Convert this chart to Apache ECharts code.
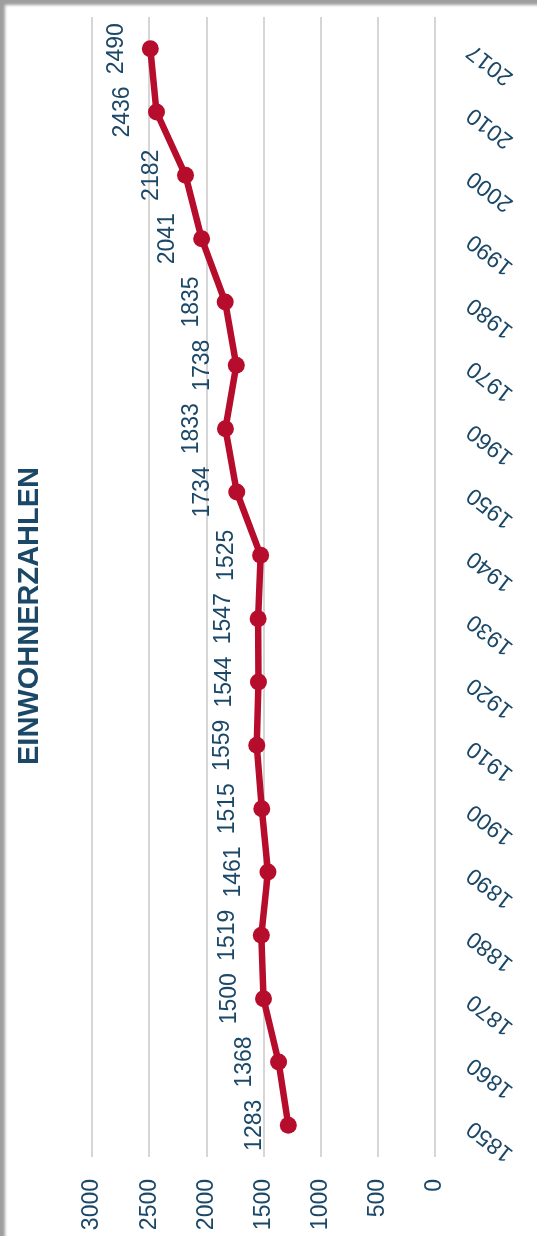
<!DOCTYPE html>
<html>
<head>
<meta charset="utf-8">
<script src="https://cdn.jsdelivr.net/npm/echarts@6/dist/echarts.min.js"></script>
<style>
html,body{margin:0;padding:0;background:#fff;}
#wrap{position:relative;width:537px;height:1236px;box-shadow:inset 6px 6px 3px -1px rgba(0,0,0,0.38);}
#chart{position:absolute;left:0;top:0;width:537px;height:1236px;}
</style>
</head>
<body>
<div id="wrap"><div id="chart"></div></div>
<script>
const title = 'EINWOHNERZAHLEN';
const years = ['1850','1860','1870','1880','1890','1900','1910','1920','1930','1940','1950','1960','1970','1980','1990','2000','2010','2017'];
const population = [1283,1368,1500,1519,1461,1515,1559,1544,1547,1525,1734,1833,1738,1835,2041,2182,2436,2490];
const valueTicks = {min:0, max:3000, interval:500};

const navy = '#1c4868';
const red = '#b70d2c';
const font = '"Liberation Sans", Arial, sans-serif';

const chart = echarts.init(document.getElementById('chart'), null, {renderer:'canvas'});
chart.setOption({
  backgroundColor: 'transparent',
  animation: false,
  grid: {left: 92, right: 102, top: 17, bottom: 79, containLabel: false, outerBoundsMode: 'none'},
  xAxis: {
    type: 'value',
    min: valueTicks.min, max: valueTicks.max, interval: valueTicks.interval,
    inverse: true,
    position: 'bottom',
    axisLine: {show: false},
    axisTick: {show: false},
    splitLine: {show: true, lineStyle: {color: '#d6d6d6', width: 2}},
    axisLabel: {rotate: 90, margin: 22, color: navy, fontSize: 23, fontFamily: font,
      formatter: function (v) { return String(v); }}
  },
  yAxis: {
    type: 'category',
    data: years,
    position: 'right',
    axisLine: {show: false},
    axisTick: {show: false},
    axisLabel: {rotate: 142, margin: 35, color: navy, fontSize: 23, fontFamily: font}
  },
  graphic: [{
    type: 'text',
    x: 30, y: 616,
    rotation: Math.PI / 2,
    style: {
      text: title,
      fill: navy,
      font: 'bold 29px "Liberation Sans", Arial, sans-serif',
      textAlign: 'center',
      textVerticalAlign: 'middle'
    }
  }],
  series: [{
    type: 'line',
    data: population,
    symbol: 'circle',
    symbolSize: 17,
    lineStyle: {color: red, width: 6.5},
    itemStyle: {color: red},
    label: {
      show: true,
      position: 'left',
      distance: 14,
      rotate: 90,
      align: 'center',
      verticalAlign: 'bottom',
      color: navy,
      fontSize: 23,
      fontFamily: font
    }
  }]
});
</script>
</body>
</html>
